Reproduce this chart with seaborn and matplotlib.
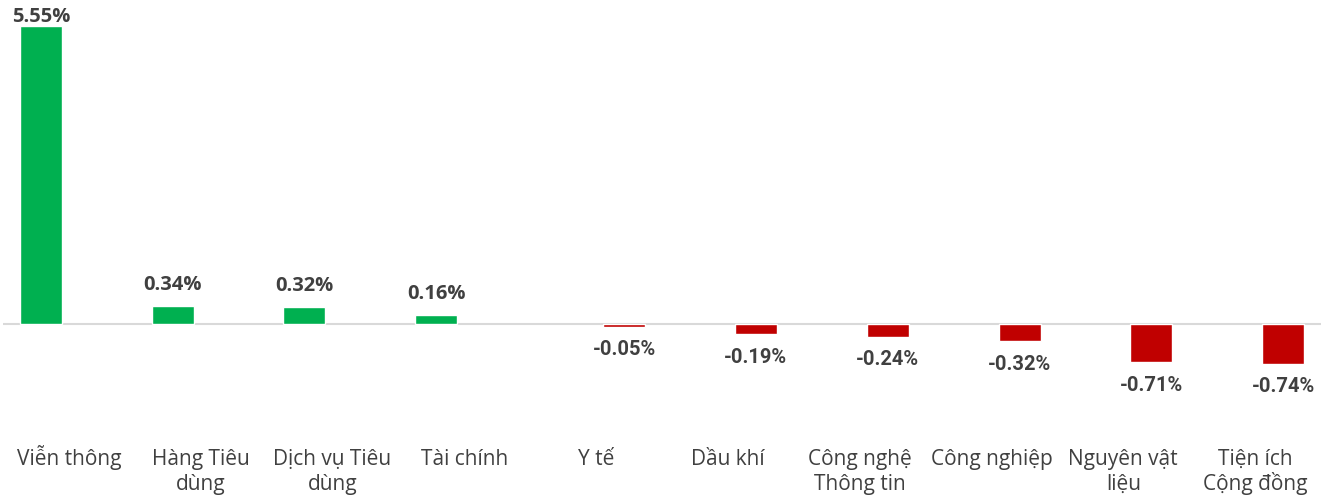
import numpy as np
import pandas as pd
import matplotlib
matplotlib.use("Agg")
import matplotlib.pyplot as plt
import seaborn as sns

nganh = ["Viễn thông", "Hàng Tiêu\ndùng", "Dịch vụ Tiêu\ndùng", "Tài chính", "Y tế",
         "Dầu khí", "Công nghệ\nThông tin", "Công nghiệp", "Nguyên vật\nliệu", "Tiện ích\nCộng đồng"]
thay_doi = [5.55, 0.34, 0.32, 0.16, -0.05, -0.19, -0.24, -0.32, -0.71, -0.74]

df = pd.DataFrame({"nganh": nganh, "pct": thay_doi})
df["dau"] = np.where(df["pct"] >= 0, "tang", "giam")

XANH = "#00B050"
DO = "#C00000"
CHU = "#404040"

sns.set_theme(style="white")
plt.rcParams["font.family"] = ["Open Sans", "DejaVu Sans"]

fig = plt.figure(figsize=(13.26, 4.95), dpi=100)
ax = fig.add_axes([3 / 1326, 1 - 447.5 / 495, 1318 / 1326, 429.5 / 495])

sns.barplot(data=df, x="nganh", y="pct", hue="dau", order=nganh,
            hue_order=["tang", "giam"], palette={"tang": XANH, "giam": DO},
            width=0.85, gap=0.25, dodge=True, legend=False, ax=ax, saturation=1)

ax.set_ylim(-2.3, 5.7)
ax.set_xlim(-0.5, len(nganh) - 0.5)
ax.axhline(0, color="#D9D9D9", lw=1.5, zorder=0)

px = 53.7  # pixel cho moi 1%
for p in ax.patches:
    h = p.get_height()
    if np.isnan(h) or h == 0:
        continue
    xc = p.get_x() + p.get_width() / 2
    if h > 0:
        y = min(h + 21 / px, 5.72)
        ax.text(xc, y, f"{h:.2f}%", ha="center", va="center", fontsize=14.5,
                fontweight="bold", color=CHU, family=["Open Sans", "DejaVu Sans"])
    else:
        ax.text(xc, h - 23 / px, f"{h:.2f}%", ha="center", va="center", fontsize=14.5,
                fontweight="bold", color=CHU, family=["Roboto", "DejaVu Sans"])

# nhan nganh: ve tung dong de cac dong dau thang hang theo baseline
ticks = ax.get_xticks()
ax.set_xticks(ticks, [""] * len(ticks))
for xt, ten in zip(ticks, nganh):
    for i, dong in enumerate(ten.split("\n")):
        ax.annotate(dong, xy=(xt, 0), xycoords=("data", "axes fraction"),
                    xytext=(0, -12.8 - 18 * i), textcoords="offset points",
                    ha="center", va="baseline", fontsize=15, color=CHU,
                    annotation_clip=False)

ax.set_xlabel("")
ax.set_ylabel("")
ax.set_yticks([])
ax.tick_params(axis="x", length=0)
for s in ax.spines.values():
    s.set_visible(False)

fig.savefig("out.png", dpi=100)
